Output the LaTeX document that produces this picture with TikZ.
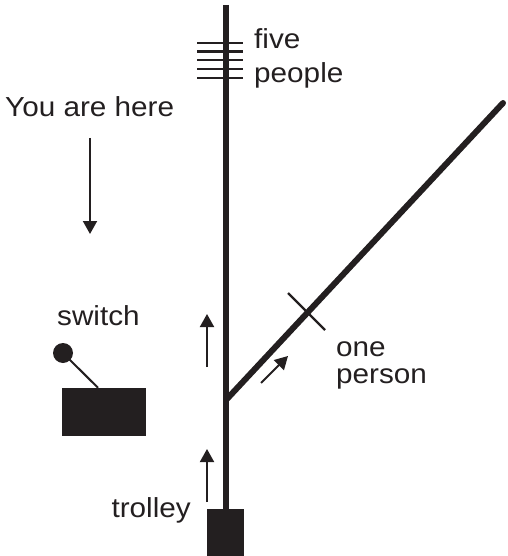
\documentclass[tikz,border=0pt]{standalone}
\usepackage{fontspec}
\setmainfont{Liberation Sans}
\usetikzlibrary{arrows.meta}
\definecolor{ink}{HTML}{231F20}
\tikzset{
  txt/.style={font=\fontsize{27.5}{32}\selectfont, text=ink, inner sep=0pt, anchor=base west},
  track/.style={draw=ink, line width=6pt},
  person/.style={draw=ink, line width=2.3pt},
  mover/.style={draw=ink, line width=1.9pt, -{Triangle[width=14pt,length=13pt]}},
  block/.style={fill=ink, draw=none, inner sep=0pt}
}
\newcommand{\wtxt}[1]{\scalebox{1.08}[1]{#1}}
\begin{document}
\begin{tikzpicture}[x=1pt,y=-1pt]
\useasboundingbox (0,0) rectangle (507,556);
% trolley block
\node[block, minimum width=37pt, minimum height=48pt] (trolley) at (225.5,533) {};
\coordinate (top) at (226,5);
\coordinate (junction) at (226,400);
\coordinate (branchend) at (503,103);
% main track
\draw[track] (top) -- (trolley.north -| top);
% side track
\draw[track, line cap=round] (junction) -- (branchend);
% five people
\foreach \yy [count=\i] in {43,51.5,60,69,78}{
  \coordinate (pa\i) at (197,\yy);
  \coordinate (pb\i) at (243,\yy);
  \draw[person] (pa\i) -- (pb\i);
}
% one person
\coordinate (oa) at (288,293);
\coordinate (ob) at (325,330);
\draw[person] (oa) -- (ob);
% labels
\node[txt] (five) at (254,49) {\wtxt{five}};
\node[txt] (people) at (254,83) {\wtxt{people}};
\node[txt] (here) at (5,117) {\wtxt{You are here}};
\node[txt] (switch) at (57,325) {\wtxt{switch}};
\node[txt] (one) at (336,356) {\wtxt{one}};
\node[txt] (personlbl) at (336,383) {\wtxt{person}};
\node[txt, anchor=base east] (trolleylbl) at (191,517) {\wtxt{trolley}};
% you are here arrow
\coordinate (ha) at (90,138);
\coordinate (hb) at (90,234);
\draw[mover] (ha) -- (hb);
% switch
\node[block, minimum width=84pt, minimum height=48pt] (box) at (104,412) {};
\node[circle, fill=ink, inner sep=0pt, minimum size=20pt] (ball) at (63,353) {};
\draw[draw=ink, line width=2pt] (ball.center) -- (box.north -| 98,0);
% motion arrows
\coordinate (u1a) at (207,502);
\coordinate (u1b) at (207,449);
\draw[mover] (u1a) -- (u1b);
\coordinate (u2a) at (207,367);
\coordinate (u2b) at (207,314);
\draw[mover] (u2a) -- (u2b);
\coordinate (da) at (261,383);
\coordinate (db) at (288,356);
\draw[mover] (da) -- (db);
\end{tikzpicture}
\end{document}
